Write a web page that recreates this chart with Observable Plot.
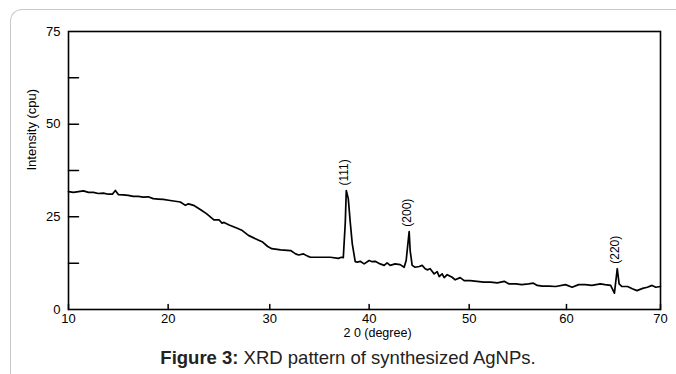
<!DOCTYPE html>
<html>
<head>
<meta charset="utf-8">
<script src="https://cdn.jsdelivr.net/npm/d3@7"></script>
<script src="https://cdn.jsdelivr.net/npm/@observablehq/plot@0.6"></script>
<style>
  html, body { margin: 0; padding: 0; background: #fff; }
  #wrap { position: relative; width: 676px; height: 374px; overflow: hidden; font-family: "Liberation Sans", Arial, sans-serif; }
  #border { position: absolute; left: 10px; top: 9px; width: 700px; height: 400px; border-left: 1.5px solid #c9c9c9; border-top: 1.5px solid #c9c9c9; border-top-left-radius: 12px; box-sizing: border-box; }
  #chart { position: absolute; left: 0; top: 0; }
  #caption { position: absolute; left: 48px; width: 600px; top: 346.5px; text-align: center; font-size: 18.5px; line-height: 22px; color: #222; white-space: nowrap; }
</style>
</head>
<body>
<div id="wrap">
  <div id="border"></div>
  <div id="chart"></div>
  <div id="caption"><b>Figure 3:</b> XRD pattern of synthesized AgNPs.</div>
</div>
<script>
// 2θ (degree) values and intensity (cpu)
const twoTheta = [
  10.0, 10.5, 11.0, 11.5, 12.0, 12.5, 13.0, 13.5, 14.0, 14.4, 14.7, 15.0, 15.5, 16.0, 16.5, 17.0, 17.5, 18.0, 18.5, 19.0, 19.5,
  20.2, 21.2, 21.7, 22.0, 22.5, 23.2, 23.8, 24.5, 25.0, 25.3, 25.5, 26.0, 26.8, 27.3, 27.9, 28.8, 29.3, 29.8,
  30.2, 31.1, 32.1, 32.6, 32.9, 33.4, 33.8, 34.1, 35.1, 36.1, 36.9, 37.2, 37.4, 37.6, 37.7, 37.9, 38.1, 38.3, 38.6, 38.8, 39.1, 39.5,
  40.0, 40.3, 40.6, 41.1, 41.5, 41.8, 42.1, 42.6, 43.1, 43.5, 43.7, 44.0, 44.1, 44.3, 44.6, 45.0, 45.3, 45.6, 45.8, 46.1, 46.5, 46.8,
  47.0, 47.3, 47.5, 47.8, 48.3, 48.6, 49.1, 49.5,
  50.1, 50.8, 51.5, 52.2, 52.9, 53.6, 54.1, 54.8, 55.4, 56.1, 56.6, 57.0, 57.5, 58.2, 58.9, 59.9,
  60.6, 61.3, 62.0, 62.7, 63.6, 64.1, 64.7, 65.1, 65.4, 65.6, 65.9, 66.5, 67.0, 67.5, 68.1, 68.6, 69.1, 69.5, 70.0
];
const intensity = [
  31.8, 31.6, 31.8, 32.0, 31.6, 31.6, 31.3, 31.4, 31.1, 31.1, 32.1, 31.0, 30.9, 30.8, 30.5, 30.5, 30.3, 30.4, 29.9, 29.8, 29.7,
  29.4, 29.0, 28.1, 28.5, 28.1, 26.9, 25.8, 24.2, 24.2, 23.3, 23.5, 22.8, 21.9, 21.3, 20.0, 18.8, 18.2, 17.0,
  16.4, 16.1, 15.9, 15.0, 14.7, 15.0, 14.4, 14.1, 14.1, 14.1, 13.8, 14.1, 14.0, 23.5, 32.1, 29.9, 23.5, 17.8, 12.9, 12.8, 13.0, 12.3,
  13.2, 12.9, 13.0, 12.3, 11.9, 12.6, 11.9, 12.3, 12.1, 11.4, 13.2, 21.0, 15.9, 11.9, 11.4, 11.6, 11.9, 11.0, 10.7, 11.0, 9.6, 10.2,
  8.9, 9.6, 8.6, 9.4, 8.7, 8.0, 8.6, 7.8,
  7.8, 7.6, 7.4, 7.4, 7.2, 7.6, 6.9, 6.9, 6.7, 6.9, 7.1, 6.5, 6.3, 6.3, 6.2, 6.7,
  6.0, 6.7, 6.7, 6.5, 6.9, 6.7, 6.5, 4.4, 11.0, 6.9, 6.2, 6.2, 5.6, 5.1, 5.7, 6.0, 6.5, 6.0, 6.2
];

const peakLabels = ["(111)", "(200)", "(220)"];
const peakTheta = [37.7, 44.0, 65.4];
const peakIntensity = [32.1, 21.0, 11.0];

const xTicks = [10, 20, 30, 40, 50, 60, 70];
const yLabelTicks = [0, 25, 50, 75];
const yMinorTicks = [12.5, 25, 37.5, 50, 62.5];

const xLabel = "2 0 (degree)";
const yLabel = "Intensity (cpu)";

// The original axis is slightly unevenly spaced; this maps each tick to where it sits.
const xWarp = d3.scaleLinear().domain(xTicks).range([10, 20.1, 30.4, 40.47, 50.61, 60.47, 70]);

const data = twoTheta.map((t, i) => ({t, v: intensity[i]}));
const peaks = peakLabels.map((s, i) => ({s, t: peakTheta[i], v: peakIntensity[i]}));

const tickShape = {draw(ctx, l) { ctx.moveTo(0, 0); ctx.lineTo(0, -l); }};

const W = 676, H = 340;
const chart = Plot.plot({
  width: W,
  height: H,
  marginLeft: 68,
  marginRight: 16,
  marginTop: 31,
  marginBottom: 31,
  style: {fontFamily: "'Liberation Sans', Arial, sans-serif", fontSize: "13px", color: "#000", background: "transparent"},
  x: {domain: [10, 70], transform: xWarp, axis: null},
  y: {domain: [0, 75], axis: null},
  marks: [
    Plot.axisX(xTicks, {tickSize: 0, tickPadding: 4, fontSize: 13, label: null}),
    Plot.axisY(yLabelTicks, {tickSize: 0, tickPadding: 8, fontSize: 13, label: null}),
    Plot.vector(yMinorTicks, {y: d => d, frameAnchor: "left", length: 10, rotate: 90, anchor: "start", shape: tickShape, stroke: "black", strokeWidth: 1.5}),
    Plot.vector(xTicks, {x: d => d, frameAnchor: "bottom", length: 5, rotate: 0, anchor: "start", shape: tickShape, stroke: "black", strokeWidth: 1.5}),
    Plot.line(data, {x: "t", y: "v", stroke: "black", strokeWidth: 1.7, strokeLinejoin: "round"}),
    Plot.text(peaks, {x: "t", y: "v", text: "s", rotate: -90, textAnchor: "start", dx: -2, dy: -5, fontSize: 12}),
    Plot.text([xLabel], {frameAnchor: "bottom", dx: 13, dy: 27, fontSize: 12.5}),
    Plot.text([yLabel], {frameAnchor: "left", dx: -37, rotate: -90, fontSize: 13}),
    Plot.frame({stroke: "black", strokeWidth: 1.6})
  ]
});
document.getElementById("chart").appendChild(chart);
</script>
</body>
</html>
